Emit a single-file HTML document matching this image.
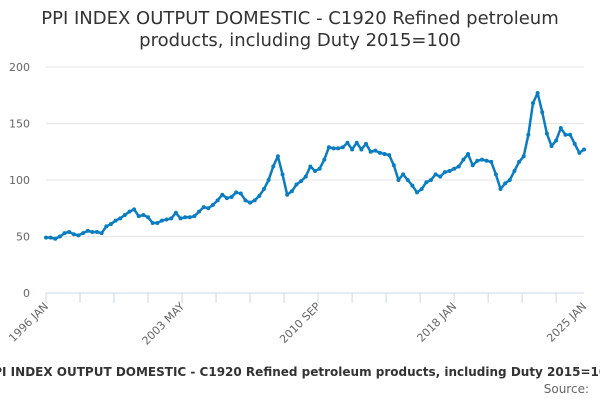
<!DOCTYPE html>
<html><head><meta charset="utf-8"><style>
body{margin:0;width:600px;height:400px;overflow:hidden;background:#fff;font-family:"DejaVu Sans","Liberation Sans",sans-serif}
svg{display:block}
</style></head><body>
<svg width="600" height="400" id="c" font-family="DejaVu Sans, Liberation Sans, sans-serif">
<text x="300" y="24" text-anchor="middle" font-size="18" fill="#333">PPI INDEX OUTPUT DOMESTIC - C1920 Refined petroleum</text>
<text x="300" y="46" text-anchor="middle" font-size="18" fill="#333">products, including Duty 2015=100</text>
<text x="300" y="376" text-anchor="middle" font-size="12" font-weight="bold" fill="#333">PPI INDEX OUTPUT DOMESTIC - C1920 Refined petroleum products, including Duty 2015=100</text>
<text x="589" y="393" text-anchor="end" font-size="12" fill="#666">Source:</text>
</svg>
<script>
const yTicks=[0,50,100,150,200];
const xLabels=["1996 JAN","2003 MAY","2010 SEP","2018 JAN","2025 JAN"];
const xLabelMonths=[0,88,176,264,348];
// quarterly values from 1996 Q1 to 2025 Q1
const values=[49,49,48,50, 53,54,52,51, 53,55,54,54, 53,59,61,64, 66,69,72,74, 68,69,67,62,
62,64,65,66, 71,66,67,67, 68,72,76,75, 78,82,87,84, 85,89,88,82, 80,82,86,92,
100,112,121,105, 87,90,96,99, 103,112,108,110, 118,129,128,128, 129,133,127,133,
127,132,125,126, 124,123,122,113, 100,105,100,95, 89,92,98,100, 105,103,107,108,
110,112,118,123, 113,117,118,117, 116,105,92,97, 100,108,116,121, 140,168,177,160,
141,130,135,146, 140,140,132,124, 127];
const svg=document.getElementById('c');const NS='http://www.w3.org/2000/svg';
const x0=46,x1=584,y0=293,y1=67;
const xs=m=>x0+(x1-x0)*m/348;
const ys=v=>y0-(y0-y1)*v/200;
function mk(t,a){const e=document.createElementNS(NS,t);for(const k in a)e.setAttribute(k,a[k]);svg.appendChild(e);return e;}
yTicks.forEach(v=>{
 const l=mk('line',{x1:x0,x2:x1,y1:ys(v),y2:ys(v),stroke:v===0?'#ccd6eb':'#e6e6e6','stroke-width':1});
 
 
 const t=mk('text',{x:30,y:ys(v)+4,'text-anchor':'end','font-size':11,fill:'#666'});t.textContent=v;
 
 
});
for(let m=0;m<=348;m+=22){
 const tk=mk('line',{x1:xs(m),x2:xs(m),y1:y0,y2:y0+10,stroke:'#ccd6eb'});
 
 
}
xLabels.forEach((s,i)=>{
 const x=xs(xLabelMonths[i]);
 const t=mk('text',{x:x+3,y:y0+14,'text-anchor':'end','font-size':11,fill:'#666',transform:`rotate(-45 ${x+3} ${y0+14})`});t.textContent=s;
 
 
});
const pts=values.map((v,i)=>[xs(i*3),ys(v)]);
const p=mk('polyline',{points:pts.map(q=>q.join(',')).join(' '),fill:'none',stroke:'#0a7dc2','stroke-width':2.5,'stroke-linejoin':'round'});


pts.forEach(q=>{
 const c=mk('circle',{cx:q[0],cy:q[1],r:2,fill:'#0a7dc2'});
 
 
});
</script>
</body></html>
